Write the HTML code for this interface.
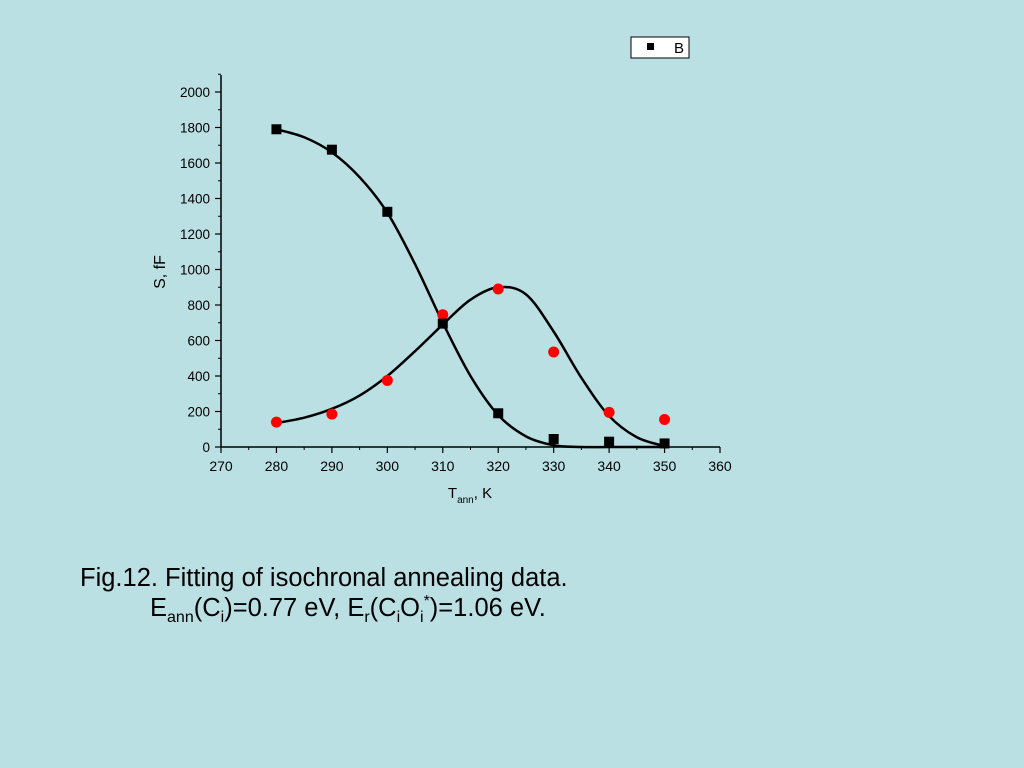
<!DOCTYPE html>
<html><head><meta charset="utf-8"><style>
body{margin:0;background:#bde0e3;}
svg{display:block;font-family:"Liberation Sans",sans-serif;}
</style></head><body>
<svg id="c" width="1024" height="768" viewBox="0 0 1024 768">
<rect width="1024" height="768" fill="#bae0e4"/>
<g id="axes"></g><g id="marks"></g>
<g>
<rect x="631" y="37" width="58" height="21" fill="#fff" stroke="#000" stroke-width="1"/>
<rect x="647" y="43" width="7" height="7" fill="#000"/>
<text x="674" y="53" font-size="15">B</text>
</g>
<text transform="translate(165,272) rotate(-90)" font-size="16" text-anchor="middle">S, fF</text>
<text x="470" y="498" font-size="15" text-anchor="middle">T<tspan font-size="10" dy="5">ann</tspan><tspan dy="-5">, K</tspan></text>
<text x="80" y="586" font-size="25.5">Fig.12. Fitting of isochronal annealing data.</text>
<text x="150" y="616" font-size="25.5">E<tspan font-size="16" dy="6">ann</tspan><tspan dy="-6">(C</tspan><tspan font-size="16" dy="6">i</tspan><tspan dy="-6">)=0.77 eV, E</tspan><tspan font-size="16" dy="6">r</tspan><tspan dy="-6">(C</tspan><tspan font-size="16" dy="6">i</tspan><tspan dy="-6">O</tspan><tspan font-size="16" dy="6">i</tspan><tspan font-size="16" dy="-16">*</tspan><tspan dy="10">)=1.06 eV.</tspan></text>
</svg>
<script>
const xPts=[280,290,300,310,320,330,340,350];
const blackVals=[1790,1675,1325,695,190,45,30,20];
const redVals=[140,185,375,745,890,535,195,155];
const fitX=[280,285,290,295,300,305,310,315,320,325,330,335,340,345,350];
const blackFit=[1790,1745,1660,1520,1320,1030,700,400,180,60,10,0,0,0,0];
const redFit=[135,165,215,290,400,540,690,830,900,860,650,390,175,55,5];
const xTicks=[270,280,290,300,310,320,330,340,350,360];
const yTicks=[0,200,400,600,800,1000,1200,1400,1600,1800,2000];
const X=v=>221+(v-270)*(720-221)/90;
const Y=v=>447-v*(447-92)/2000;
const NS='http://www.w3.org/2000/svg';
const ax=document.getElementById('axes'),mk=document.getElementById('marks');
function el(t,a,p){const e=document.createElementNS(NS,t);for(const k in a)e.setAttribute(k,a[k]);p.appendChild(e);return e;}
const yl=el('line',{x1:221,y1:75,x2:221,y2:447,stroke:'#000','stroke-width':1.5},ax);


const xl=el('line',{x1:221,y1:447,x2:720,y2:447,stroke:'#000','stroke-width':1.5},ax);


xTicks.forEach((t,i)=>{
 el('line',{x1:X(t),y1:447,x2:X(t),y2:453,stroke:'#000','stroke-width':1.2},ax);
 if(i<xTicks.length-1)el('line',{x1:X(t+5),y1:447,x2:X(t+5),y2:450,stroke:'#000','stroke-width':1},ax);
 const tx=el('text',{x:X(t),y:471,'font-size':14,'text-anchor':'middle'},ax);tx.textContent=t;
 
 
});
yTicks.forEach((t,i)=>{
 el('line',{x1:215,y1:Y(t),x2:221,y2:Y(t),stroke:'#000','stroke-width':1.2},ax);
 el('line',{x1:218,y1:Y(t+100),x2:221,y2:Y(t+100),stroke:'#000','stroke-width':1},ax);
 const tx=el('text',{x:210,y:Y(t)+5,'font-size':13.5,'text-anchor':'end'},ax);tx.textContent=t;
 
 
});
function smooth(xs,ys){const p=xs.map((x,i)=>[X(x),Y(ys[i])]);let d='M'+p[0][0]+','+p[0][1];
 for(let i=0;i<p.length-1;i++){const a=p[i-1]||p[i],b=p[i],c=p[i+1],e=p[i+2]||c;
 d+=` C${b[0]+(c[0]-a[0])/6},${b[1]+(c[1]-a[1])/6} ${c[0]-(e[0]-b[0])/6},${c[1]-(e[1]-b[1])/6} ${c[0]},${c[1]}`;}return d;}
const f1=el('path',{d:smooth(fitX,blackFit),fill:'none',stroke:'#000','stroke-width':2.5},mk);


const f2=el('path',{d:smooth(fitX,redFit),fill:'none',stroke:'#000','stroke-width':2.5},mk);


xPts.forEach((x,i)=>{
 const c=el('circle',{cx:X(x),cy:Y(redVals[i]),r:5.5,fill:'#f00'},mk);
 
 
 const s=el('rect',{x:X(x)-5,y:Y(blackVals[i])-5,width:10,height:10,fill:'#000'},mk);
 
 
});
</script>
</body></html>
